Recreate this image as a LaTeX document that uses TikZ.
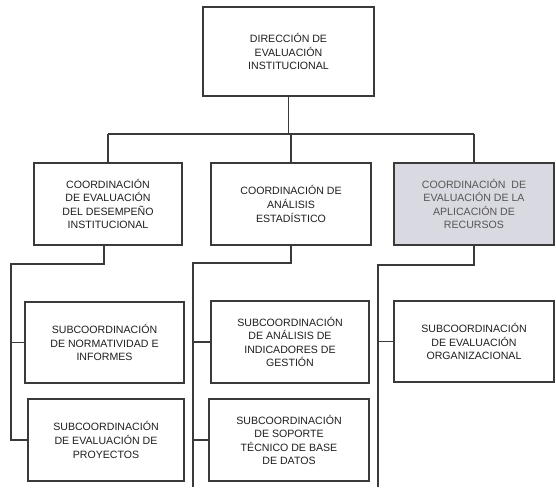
\documentclass[tikz,border=0pt]{standalone}
\usepackage{fontspec}
\setmainfont{Liberation Sans}
\definecolor{linec}{HTML}{3A3A3A}
\definecolor{txtc}{HTML}{1E1E1E}
\definecolor{greyfill}{HTML}{D9D9E1}
\definecolor{greytxt}{HTML}{555555}
\begin{document}
\begin{tikzpicture}[x=1pt,y=-1pt,
  orgbox/.style={draw=linec, line width=1.2pt, align=center, inner sep=0pt,
    text=txtc, font=\fontsize{10.6}{13.6}\selectfont},
  conn/.style={draw=linec, line width=1.1pt}]
\useasboundingbox (0,0) rectangle (556,487);
\fill[white] (0,0) rectangle (556,487);
% boxes
\node[orgbox, minimum width=171pt, minimum height=89pt] (top) at (288.5,51.5)
  {DIRECCIÓN DE\\EVALUACIÓN\\INSTITUCIONAL};
\node[orgbox, minimum width=148pt, minimum height=82pt] (A) at (108,204)
  {COORDINACIÓN\\DE EVALUACIÓN\\DEL DESEMPEÑO\\INSTITUCIONAL};
\node[orgbox, minimum width=160pt, minimum height=82pt] (B) at (291,204)
  {COORDINACIÓN DE\\ANÁLISIS\\ESTADÍSTICO};
\node[orgbox, fill=greyfill, text=greytxt, minimum width=160pt, minimum height=82pt] (C) at (474,204)
  {COORDINACIÓN\ \ DE\\EVALUACIÓN DE LA\\APLICACIÓN DE\\RECURSOS};
\node[orgbox, minimum width=159pt, minimum height=81pt] (D) at (104.5,342.5)
  {SUBCOORDINACIÓN\\DE NORMATIVIDAD E\\INFORMES};
\node[orgbox, minimum width=156pt, minimum height=82pt] (E) at (106,440)
  {SUBCOORDINACIÓN\\DE EVALUACIÓN DE\\PROYECTOS};
\node[orgbox, minimum width=158pt, minimum height=82pt] (F) at (290,342)
  {SUBCOORDINACIÓN\\DE ANÁLISIS DE\\INDICADORES DE\\GESTIÓN};
\node[orgbox, minimum width=160pt, minimum height=82pt] (G) at (289,440)
  {SUBCOORDINACIÓN\\DE SOPORTE\\TÉCNICO DE BASE\\DE DATOS};
\node[orgbox, minimum width=160pt, minimum height=81pt] (H) at (474,341.5)
  {SUBCOORDINACIÓN\\DE EVALUACIÓN\\ORGANIZACIONAL};
% top level connectors
\coordinate (bus) at (0,134);
\draw[conn] (top.south) -- (top.south |- bus);
\draw[conn] (A.north |- bus) -- (C.north |- bus);
\draw[conn] (A.north) -- (A.north |- bus);
\draw[conn] (B.north) -- (B.north |- bus);
\draw[conn] (C.north) -- (C.north |- bus);
% branch A
\coordinate (a1) at (11,264);
\draw[conn] ([xshift=-4pt]A.south) |- (a1) -- (a1 |- E.west) -- (E.west);
\draw[conn] (a1 |- D.west) -- (D.west);
% branch B
\coordinate (b1) at (193,263);
\coordinate (bEnd) at (193,487);
\draw[conn] (B.south) |- (b1) -- (bEnd);
\draw[conn] (b1 |- F.west) -- (F.west);
\draw[conn] (b1 |- G.west) -- (G.west);
% branch C
\coordinate (c1) at (378,265);
\coordinate (cEnd) at (378,487);
\draw[conn] (C.south) |- (c1) -- (cEnd);
\draw[conn] (c1 |- H.west) -- (H.west);
\end{tikzpicture}
\end{document}
